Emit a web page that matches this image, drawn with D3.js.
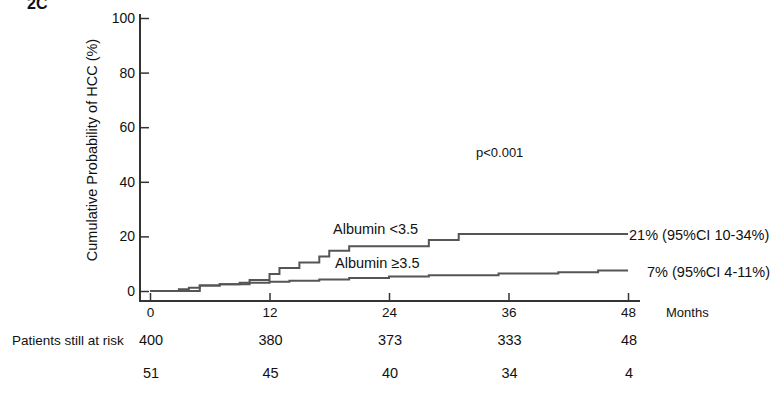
<!DOCTYPE html>
<html>
<head>
<meta charset="utf-8">
<script src="https://cdn.jsdelivr.net/npm/d3@7"></script>
<style>
  body { margin: 0; background: #fff; }
  svg { display: block; font-family: "Liberation Sans", Arial, sans-serif; }
</style>
</head>
<body>
<svg id="chart" width="775" height="412"></svg>
<script>
// ---- data ----
const xTicks = [0, 12, 24, 36, 48];
const yTicks = [0, 20, 40, 60, 80, 100];
// Albumin <3.5 : [month, cumulative %]
const lowAlbMonths = [0, 5, 7, 9, 10, 12, 13, 15, 17, 18, 20, 28, 31, 48];
const lowAlbValues = [0, 2.0, 2.5, 3.0, 4.0, 6.2, 8.4, 10.4, 12.6, 14.7, 16.4, 18.7, 20.9, 20.9];
// Albumin >=3.5
const highAlbMonths = [0, 2.9, 3.9, 5, 7, 10, 12, 14, 17, 20, 24, 28, 35, 41, 45, 48];
const highAlbValues = [0, 0.6, 1.2, 2.0, 2.5, 3.0, 3.4, 3.8, 4.2, 4.8, 5.3, 5.8, 6.4, 6.9, 7.5, 7.5];
const riskLabel = "Patients still at risk";
const riskRow1 = [400, 380, 373, 333, 48];
const riskRow2 = [51, 45, 40, 34, 4];
const seriesLabels = ["Albumin <3.5", "Albumin \u22653.5"];
const endLabels = ["21% (95%CI 10-34%)", "7% (95%CI 4-11%)"];

// ---- scales ----
const x = d3.scaleLinear().domain([0, 48]).range([150, 628]);
const y = d3.scaleLinear().domain([0, 100]).range([291, 18]);
const axisColor = "#333";
const lineColor = "#555";
const textColor = "#111";

const svg = d3.select("#chart");

// panel label
svg.append("text").attr("x", 27).attr("y", 9)
  .attr("font-size", 16).attr("font-weight", "bold").attr("fill", textColor).text("2C");

// axis lines
svg.append("line").attr("x1", 140).attr("x2", 140).attr("y1", 14).attr("y2", 301)
  .attr("stroke", axisColor).attr("stroke-width", 2);
svg.append("line").attr("x1", 139).attr("x2", 640).attr("y1", 301).attr("y2", 301)
  .attr("stroke", axisColor).attr("stroke-width", 2);

// y axis
const yAxis = d3.axisLeft(y).tickValues(yTicks).tickSizeInner(-9).tickSizeOuter(0).tickPadding(5);
const gy = svg.append("g").attr("transform", "translate(140,0)").call(yAxis);
gy.select(".domain").remove();
gy.selectAll(".tick line").attr("stroke", axisColor).attr("stroke-width", 1.5);
gy.selectAll(".tick text").attr("font-size", 14).attr("fill", textColor)
  .attr("font-family", "Liberation Sans, Arial, sans-serif");

// x axis
const xAxis = d3.axisBottom(x).tickValues(xTicks).tickSizeInner(-8).tickSizeOuter(0).tickPadding(6);
const gx = svg.append("g").attr("transform", "translate(0,301)").call(xAxis);
gx.select(".domain").remove();
gx.selectAll(".tick line").attr("stroke", axisColor).attr("stroke-width", 1.5);
gx.selectAll(".tick text").attr("font-size", 13.5).attr("fill", textColor)
  .attr("font-family", "Liberation Sans, Arial, sans-serif");

svg.append("text").attr("x", 666).attr("y", 317).attr("font-size", 13).attr("fill", textColor).text("Months");

// y label
svg.append("text").attr("transform", "translate(97,150) rotate(-90)")
  .attr("text-anchor", "middle").attr("font-size", 14.5).attr("fill", textColor)
  .text("Cumulative Probability of HCC (%)");

// curves
const line = d3.line().x(d => x(d[0])).y(d => y(d[1])).curve(d3.curveStepAfter);
const lowData = lowAlbMonths.map((m, i) => [m, lowAlbValues[i]]);
const highData = highAlbMonths.map((m, i) => [m, highAlbValues[i]]);
svg.append("path").datum(highData).attr("d", line).attr("fill", "none")
  .attr("stroke", lineColor).attr("stroke-width", 2);
svg.append("path").datum(lowData).attr("d", line).attr("fill", "none")
  .attr("stroke", lineColor).attr("stroke-width", 2);

// annotations
svg.append("text").attr("x", 333).attr("y", 234).attr("font-size", 14.5).attr("fill", textColor).text(seriesLabels[0]);
svg.append("text").attr("x", 335).attr("y", 268).attr("font-size", 14.5).attr("fill", textColor).text(seriesLabels[1]);
svg.append("text").attr("x", 629).attr("y", 240).attr("font-size", 14.5).attr("fill", textColor).text(endLabels[0]);
svg.append("text").attr("x", 647).attr("y", 277).attr("font-size", 14.5).attr("fill", textColor).text(endLabels[1]);
svg.append("text").attr("x", 476).attr("y", 157).attr("font-size", 13).attr("fill", textColor).text("p<0.001");

// risk table
svg.append("text").attr("x", 12).attr("y", 345).attr("font-size", 13.5).attr("fill", textColor).text(riskLabel);
svg.selectAll(".r1").data(riskRow1).enter().append("text")
  .attr("x", (d, i) => x(xTicks[i]) + 1).attr("y", 345).attr("text-anchor", "middle")
  .attr("font-size", 14.5).attr("fill", textColor).text(d => d);
svg.selectAll(".r2").data(riskRow2).enter().append("text")
  .attr("x", (d, i) => x(xTicks[i]) + 1).attr("y", 378).attr("text-anchor", "middle")
  .attr("font-size", 14.5).attr("fill", textColor).text(d => d);
</script>
</body>
</html>
